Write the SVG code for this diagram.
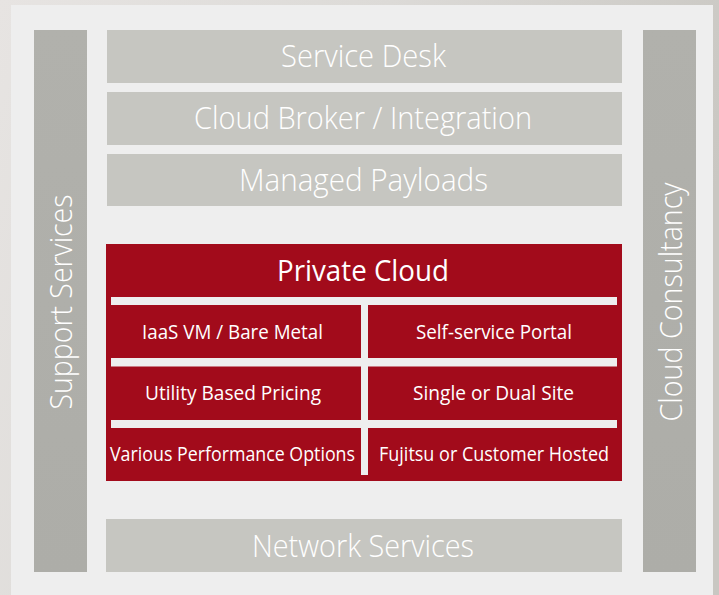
<svg xmlns="http://www.w3.org/2000/svg" width="719" height="595" viewBox="0 0 719 595">
<defs>
<linearGradient id="bg" x1="0" y1="0" x2="1" y2="0.3">
<stop offset="0" stop-color="#e7e4e2"/>
<stop offset="0.5" stop-color="#dcdad7"/>
<stop offset="1" stop-color="#c9c7c2"/>
</linearGradient>
<linearGradient id="bar" x1="0" y1="0" x2="0" y2="1">
<stop offset="0" stop-color="#b1b1ac"/>
<stop offset="1" stop-color="#adada8"/>
</linearGradient>
<style>
.gbox{fill:#c6c6c1}
.bar{fill:url(#bar)}
.red{fill:#a20b1b}
.sep{fill:#eeeeee}
text{font-family:"Open Sans","Noto Sans","Liberation Sans",sans-serif;font-weight:300;fill:#ffffff;text-anchor:middle}
.big{font-size:31px}
.pc{font-size:30px;font-weight:400}
.small{font-size:20px;font-weight:400}
</style>
</defs>
<rect x="0" y="0" width="719" height="595" fill="url(#bg)"/>
<rect x="11" y="5" width="702" height="595" fill="#eeeeee"/>

<g id="support-services">
<rect class="bar" x="34" y="30" width="53" height="542"/>
<text class="big" transform="translate(72,302) rotate(-90)" textLength="215" lengthAdjust="spacingAndGlyphs">Support Services</text>
</g>
<g id="cloud-consultancy">
<rect class="bar" x="643" y="30" width="53" height="542"/>
<text class="big" transform="translate(682,302) rotate(-90)" textLength="239" lengthAdjust="spacingAndGlyphs">Cloud Consultancy</text>
</g>
<g id="service-desk">
<rect class="gbox" x="107" y="30" width="515" height="53"/>
<text class="big" x="363.5" y="67" textLength="165" lengthAdjust="spacingAndGlyphs">Service Desk</text>
</g>
<g id="cloud-broker">
<rect class="gbox" x="107" y="92" width="515" height="53"/>
<text class="big" x="363" y="129" textLength="338" lengthAdjust="spacingAndGlyphs">Cloud Broker / Integration</text>
</g>
<g id="managed-payloads">
<rect class="gbox" x="107" y="154" width="515" height="52"/>
<text class="big" x="363.5" y="191" textLength="249" lengthAdjust="spacingAndGlyphs">Managed Payloads</text>
</g>
<g id="private-cloud">
<rect class="red" x="106" y="244" width="516" height="237"/>
<text class="pc" x="363" y="281" textLength="172" lengthAdjust="spacingAndGlyphs">Private Cloud</text>
<rect class="sep" x="111" y="297" width="506" height="8"/>
<rect class="sep" x="111" y="358" width="506" height="8.5"/>
<rect class="sep" x="111" y="420" width="506" height="8"/>
<rect class="sep" x="361" y="297" width="7" height="178"/>
</g>
<g id="iaas">
<text class="small" x="232.5" y="339" textLength="181" lengthAdjust="spacingAndGlyphs">IaaS VM / Bare Metal</text>
</g>
<g id="self-service">
<text class="small" x="494" y="339" textLength="156" lengthAdjust="spacingAndGlyphs">Self-service Portal</text>
</g>
<g id="utility">
<text class="small" x="233" y="400" textLength="176" lengthAdjust="spacingAndGlyphs">Utility Based Pricing</text>
</g>
<g id="single-dual">
<text class="small" x="493.5" y="400" textLength="161" lengthAdjust="spacingAndGlyphs">Single or Dual Site</text>
</g>
<g id="performance">
<text class="small" x="232.5" y="461" textLength="245" lengthAdjust="spacingAndGlyphs">Various Performance Options</text>
</g>
<g id="hosted">
<text class="small" x="494" y="461" textLength="230" lengthAdjust="spacingAndGlyphs">Fujitsu or Customer Hosted</text>
</g>
<g id="network-services">
<rect class="gbox" x="106" y="519" width="516" height="53"/>
<text class="big" x="363" y="557" textLength="222" lengthAdjust="spacingAndGlyphs">Network Services</text>
</g>
<g id="connectors"></g>
</svg>
